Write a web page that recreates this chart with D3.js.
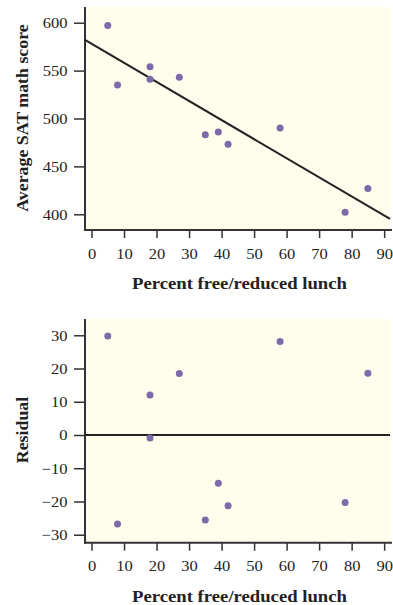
<!DOCTYPE html>
<html>
<head>
<meta charset="utf-8">
<script src="https://cdn.jsdelivr.net/npm/d3@7"></script>
<style>
  body { margin: 0; background: #fff; }
  svg text { font-family: "Liberation Serif", "DejaVu Serif", serif; fill: #222; }
</style>
</head>
<body>
<svg id="canvas" width="393" height="605"></svg>
<script>
// data
const lunchPct = [5, 8, 18, 18, 27, 35, 39, 42, 58, 78, 85];
const satMath = [597, 535, 554, 541, 543, 483, 486, 473, 490, 402, 427];
const residuals = [29.8, -26.8, 12, -0.9, 18.5, -25.6, -14.5, -21.3, 28.1, -20.3, 18.6];
const fitIntercept = 578;
const fitSlope = -1.99;
const xTicks = [0, 10, 20, 30, 40, 50, 60, 70, 80, 90];
const satTicks = [400, 450, 500, 550, 600];
const residTicks = [-30, -20, -10, 0, 10, 20, 30];

const canvas = d3.select("#canvas");
const bg = "#fffdec";
const dotColor = "#7d6aa8";
const axisColor = "#333";

const drawPanel = (opts) => {
  const { top, bottom, yDomain, yTicks, yLabel, yLabelY, values } = opts;
  const left = 85, right = 390;

  const x = d3.scaleLinear().domain([-2, 91.8]).range([left, right]);
  const y = d3.scaleLinear().domain(yDomain).range([bottom, top]);

  const g = canvas.append("g");

  g.append("rect")
    .attr("x", left)
    .attr("y", top)
    .attr("width", right - left)
    .attr("height", bottom - top)
    .attr("fill", bg);

  // bottom axis
  const xAxis = g.append("g")
    .attr("transform", `translate(0, ${bottom})`)
    .call(d3.axisBottom(x).tickValues(xTicks).tickSize(8).tickPadding(10).tickSizeOuter(0));
  xAxis.select(".domain").remove();
  xAxis.selectAll(".tick line").attr("stroke", axisColor).attr("stroke-width", 1.5);
  xAxis.selectAll(".tick text")
    .attr("font-size", 15)
    .attr("font-family", "Liberation Serif")
    .attr("fill", "#222")
    .attr("transform", "scale(1.1,1)");

  // left axis
  const yAxis = g.append("g")
    .attr("transform", `translate(${left}, 0)`)
    .call(d3.axisLeft(y).tickValues(yTicks).tickSize(11).tickPadding(5).tickSizeOuter(0));
  yAxis.select(".domain").remove();
  yAxis.selectAll(".tick line").attr("stroke", axisColor).attr("stroke-width", 1.5);
  yAxis.selectAll(".tick text")
    .attr("font-size", 15)
    .attr("font-family", "Liberation Serif")
    .attr("fill", "#222")
    .attr("transform", "scale(1.1,1)");

  // axis lines
  g.append("line")
    .attr("x1", left).attr("x2", left)
    .attr("y1", top).attr("y2", bottom + 1)
    .attr("stroke", axisColor).attr("stroke-width", 2);
  g.append("line")
    .attr("x1", left - 1).attr("x2", right + 2)
    .attr("y1", bottom).attr("y2", bottom)
    .attr("stroke", axisColor).attr("stroke-width", 2);

  opts.extra(g, x, y);

  g.selectAll("circle")
    .data(lunchPct)
    .enter()
    .append("circle")
    .attr("cx", (d) => x(d))
    .attr("cy", (d, i) => y(values[i]))
    .attr("r", 3.5)
    .attr("fill", dotColor);

  g.append("text")
    .text("Percent free/reduced lunch")
    .attr("transform", `translate(${(left + right) / 2 + 2}, ${bottom + 59}) scale(1.1,1)`)
    .attr("text-anchor", "middle")
    .attr("font-size", 17)
    .attr("font-weight", "bold");

  g.append("text")
    .text(yLabel)
    .attr("transform", `translate(28, ${yLabelY}) rotate(-90) scale(1.05,1)`)
    .attr("text-anchor", "middle")
    .attr("font-size", 17)
    .attr("font-weight", "bold");
};

drawPanel({
  top: 7,
  bottom: 230,
  yDomain: [383.6, 616.4],
  yTicks: satTicks,
  yLabel: "Average SAT math score",
  yLabelY: 118,
  values: satMath,
  extra: (g, x, y) => {
    const fit = (v) => fitIntercept + fitSlope * v;
    g.append("line")
      .attr("x1", x(-2)).attr("y1", y(fit(-2)))
      .attr("x2", x(91.8)).attr("y2", y(fit(91.8)))
      .attr("stroke", "#222")
      .attr("stroke-width", 2);
  },
});

drawPanel({
  top: 319,
  bottom: 542.7,
  yDomain: [-32.4, 34.9],
  yTicks: residTicks,
  yLabel: "Residual",
  yLabelY: 430,
  values: residuals,
  extra: (g, x, y) => {
    g.append("line")
      .attr("x1", x(-2)).attr("y1", y(0))
      .attr("x2", x(91.8)).attr("y2", y(0))
      .attr("stroke", "#222")
      .attr("stroke-width", 1.8);
  },
});
</script>
</body>
</html>
